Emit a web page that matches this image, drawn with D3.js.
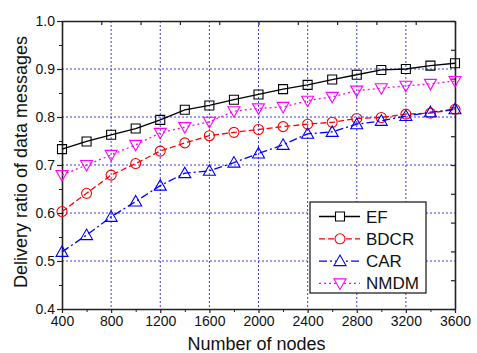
<!DOCTYPE html>
<html>
<head>
<meta charset="utf-8">
<script src="https://cdn.jsdelivr.net/npm/d3@7"></script>
<style>
  body { margin: 0; background: #fff; }
  svg { display: block; font-family: Arial, "Liberation Sans", sans-serif; }
</style>
</head>
<body>
<svg width="477" height="353"></svg>
<script>
// data
var nodes = [400, 600, 800, 1000, 1200, 1400, 1600, 1800, 2000, 2200, 2400, 2600, 2800, 3000, 3200, 3400, 3600];
var ef   = [0.733, 0.749, 0.763, 0.776, 0.794, 0.815, 0.824, 0.836, 0.847, 0.858, 0.867, 0.878, 0.888, 0.898, 0.900, 0.907, 0.912];
var bdcr = [0.603, 0.641, 0.679, 0.703, 0.729, 0.746, 0.761, 0.768, 0.774, 0.780, 0.785, 0.789, 0.797, 0.799, 0.806, 0.808, 0.816];
var car  = [0.519, 0.554, 0.592, 0.624, 0.657, 0.683, 0.688, 0.705, 0.724, 0.742, 0.765, 0.769, 0.785, 0.792, 0.802, 0.810, 0.816];
var nmdm = [0.679, 0.700, 0.721, 0.742, 0.767, 0.779, 0.790, 0.812, 0.818, 0.821, 0.834, 0.842, 0.855, 0.860, 0.865, 0.869, 0.875];

var xTicks = [400, 800, 1200, 1600, 2000, 2400, 2800, 3200, 3600];
var xMinor = [600, 1000, 1400, 1800, 2200, 2600, 3000, 3400];
var yTicks = [0.4, 0.5, 0.6, 0.7, 0.8, 0.9, 1.0];
var yMinor = [0.45, 0.55, 0.65, 0.75, 0.85, 0.95];
var topTicks = [400, 720, 1040, 1360, 1680, 2000, 2320, 2640, 2960, 3280, 3600];
var rightTicks = [0.4, 0.46, 0.52, 0.58, 0.64, 0.70, 0.76, 0.82, 0.88, 0.94, 1.0];

var seriesNames = ["EF", "BDCR", "CAR", "NMDM"];

function main() {
    var svg = d3.select("svg"),
        margin = {left: 62, top: 21, right: 22, bottom: 44},
        width = 477 - margin.left - margin.right,
        height = 353 - margin.top - margin.bottom;

    var xScale = d3.scaleLinear().domain([400, 3600]).range([0, width]),
        yScale = d3.scaleLinear().domain([0.4, 1.0]).range([height, 0]);

    var g = svg.append("g")
        .attr("transform", "translate(" + margin.left + "," + margin.top + ")");

    // grid
    g.selectAll(".vgrid")
     .data(xTicks.slice(1, -1))
     .enter().append("line")
     .attr("x1", function(d) { return xScale(d); })
     .attr("x2", function(d) { return xScale(d); })
     .attr("y1", 0).attr("y2", height)
     .attr("stroke", "#3a3aff").attr("stroke-width", 1)
     .attr("stroke-dasharray", "2,2");
    g.selectAll(".hgrid")
     .data(yTicks.slice(1, -1))
     .enter().append("line")
     .attr("y1", function(d) { return yScale(d); })
     .attr("y2", function(d) { return yScale(d); })
     .attr("x1", 0).attr("x2", width)
     .attr("stroke", "#3a3aff").attr("stroke-width", 1)
     .attr("stroke-dasharray", "2,2");

    // axes
    function styleAxis(sel) {
        sel.select(".domain").attr("stroke", "#222").attr("stroke-width", 1.6);
        sel.selectAll(".tick line").attr("stroke", "#222").attr("stroke-width", 1.2);
        sel.selectAll("text").attr("font-size", "14px").attr("fill", "#111")
           .attr("font-family", "Arial, 'Liberation Sans', sans-serif");
    }

    var xb = g.append("g")
        .attr("transform", "translate(0," + height + ")")
        .call(d3.axisBottom(xScale).tickValues(xTicks).tickFormat(d3.format("d"))
              .tickSizeInner(4).tickSizeOuter(0).tickPadding(3));
    styleAxis(xb);
    g.append("g")
        .attr("transform", "translate(0," + height + ")")
        .call(d3.axisBottom(xScale).tickValues(xMinor).tickFormat("").tickSizeInner(3).tickSizeOuter(0))
        .call(function(s) { s.select(".domain").remove(); s.selectAll("line").attr("stroke", "#222"); });

    var yl = g.append("g")
        .call(d3.axisLeft(yScale).tickValues(yTicks).tickFormat(d3.format(".1f"))
              .tickSizeInner(5).tickSizeOuter(0).tickPadding(2));
    styleAxis(yl);
    g.append("g")
        .call(d3.axisLeft(yScale).tickValues(yMinor).tickFormat("").tickSizeInner(3).tickSizeOuter(0))
        .call(function(s) { s.select(".domain").remove(); s.selectAll("line").attr("stroke", "#222"); });

    var xt = g.append("g")
        .call(d3.axisTop(xScale).tickValues(topTicks).tickFormat("").tickSizeInner(-4).tickSizeOuter(0));
    styleAxis(xt);
    var yr = g.append("g")
        .attr("transform", "translate(" + width + ",0)")
        .call(d3.axisRight(yScale).tickValues(rightTicks).tickFormat("").tickSizeInner(-4).tickSizeOuter(0));
    styleAxis(yr);

    // axis titles
    svg.append("text")
       .attr("x", margin.left + width / 2 - 2)
       .attr("y", 350)
       .attr("text-anchor", "middle")
       .attr("font-size", "18px")
       .attr("fill", "#111")
       .text("Number of nodes");
    svg.append("text")
       .attr("transform", "translate(27," + (margin.top + height / 2 - 3) + ") rotate(-90)")
       .attr("text-anchor", "middle")
       .attr("font-size", "18px")
       .attr("fill", "#111")
       .text("Delivery ratio of data messages");

    // series
    var series = [
        {name: seriesNames[0], values: ef,   color: "#000000", dash: null,      shape: "square"},
        {name: seriesNames[1], values: bdcr, color: "#ff0000", dash: "6,3",     shape: "circle"},
        {name: seriesNames[2], values: car,  color: "#0000ff", dash: "8,3,2,3", shape: "up"},
        {name: seriesNames[3], values: nmdm, color: "#ff00ff", dash: "2,3",     shape: "down"}
    ];

    function markerPath(shape) {
        if (shape === "square") return "M-4.5,-4.5H4.5V4.5H-4.5Z";
        if (shape === "up") return "M0,-6L6,4.5H-6Z";
        if (shape === "down") return "M0,6L6,-4.5H-6Z";
        return d3.symbol().type(d3.symbolCircle).size(Math.PI * 25)();
    }

    var line = d3.line()
        .x(function(d) { return xScale(d[0]); })
        .y(function(d) { return yScale(d[1]); });

    series.forEach(function(s) {
        var pts = nodes.map(function(n, i) { return [n, s.values[i]]; });
        g.append("path")
         .datum(pts)
         .attr("fill", "none")
         .attr("stroke", s.color)
         .attr("stroke-width", 1.3)
         .attr("stroke-dasharray", s.dash)
         .attr("d", line);
        g.selectAll(".m-" + s.shape)
         .data(pts)
         .enter().append("path")
         .attr("class", "m-" + s.shape)
         .attr("transform", function(d) { return "translate(" + xScale(d[0]) + "," + yScale(d[1]) + ")"; })
         .attr("d", markerPath(s.shape))
         .attr("fill", "none")
         .attr("stroke", s.color)
         .attr("stroke-width", 1.1);
    });

    // legend
    var lg = svg.append("g").attr("transform", "translate(310,202)");
    lg.append("rect")
      .attr("width", 116).attr("height", 91)
      .attr("fill", "#fff").attr("stroke", "#111").attr("stroke-width", 1.2);
    series.forEach(function(s, i) {
        var yy = 14.5 + i * 22.3;
        lg.append("line")
          .attr("x1", 9).attr("x2", 50)
          .attr("y1", yy).attr("y2", yy)
          .attr("stroke", s.color).attr("stroke-width", 1.3)
          .attr("stroke-dasharray", s.dash);
        lg.append("path")
          .attr("transform", "translate(30," + yy + ")")
          .attr("d", markerPath(s.shape))
          .attr("fill", "#fff")
          .attr("stroke", s.color).attr("stroke-width", 1.1);
        lg.append("text")
          .attr("x", 56).attr("y", yy + 6)
          .attr("font-size", "17px")
          .attr("fill", "#111")
          .text(s.name);
    });
}
main();
</script>
</body>
</html>
